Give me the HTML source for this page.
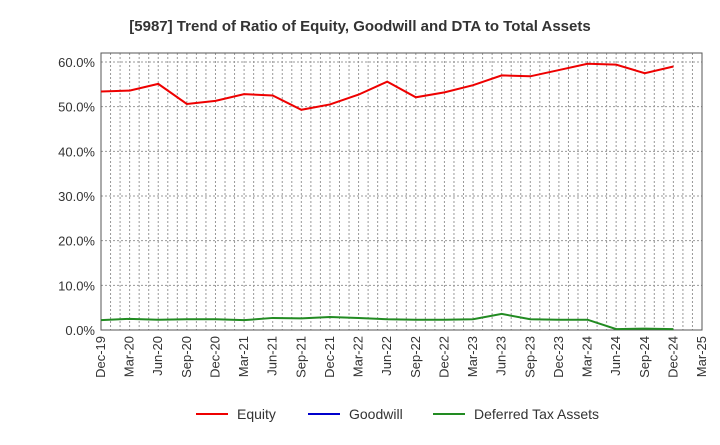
<!DOCTYPE html>
<html><head><meta charset="utf-8"><style>
body{margin:0;background:#fff;font-family:"Liberation Sans",sans-serif;}
</style></head><body>
<svg id="chart" width="720" height="440" xmlns="http://www.w3.org/2000/svg">
<text x="360" y="31" text-anchor="middle" font-size="15" font-weight="bold" fill="#333">[5987]  Trend of Ratio of Equity, Goodwill and DTA to Total Assets</text>
<g id="grid"></g><g id="axes"></g><g id="series"></g>
<g font-size="14" fill="#333">
<line x1="196" y1="414" x2="228" y2="414" stroke="#e00" stroke-width="2"/><text x="237" y="419">Equity</text>
<line x1="308" y1="414" x2="340" y2="414" stroke="#00c" stroke-width="2"/><text x="349" y="419">Goodwill</text>
<line x1="433" y1="414" x2="465" y2="414" stroke="#228b22" stroke-width="2"/><text x="474" y="419">Deferred Tax Assets</text>
</g>
</svg>
<script>
const categories=["Dec-19","Mar-20","Jun-20","Sep-20","Dec-20","Mar-21","Jun-21","Sep-21","Dec-21","Mar-22","Jun-22","Sep-22","Dec-22","Mar-23","Jun-23","Sep-23","Dec-23","Mar-24","Jun-24","Sep-24","Dec-24","Mar-25"];
const equity=[53.4,53.6,55.1,50.6,51.3,52.8,52.5,49.3,50.5,52.7,55.6,52.1,53.2,54.8,57.0,56.8,58.2,59.6,59.4,57.5,59.0];
const goodwill=[null,null,null,null,null,null,null,null,null,null,null,null,null,null,null,null,null,null,null,null,null];
const dta=[2.2,2.5,2.3,2.4,2.4,2.2,2.7,2.6,2.9,2.7,2.4,2.3,2.3,2.4,3.6,2.4,2.3,2.3,0.2,0.3,0.2];
const yTicks=[0,10,20,30,40,50,60];
const NS="http://www.w3.org/2000/svg";
const L=101,R=702,T=53,B=330;
const x=i=>L+i*(R-L)/(categories.length-1);
const y=v=>B-v*(B-62)/60;
function mk(tag,attrs,parent){const e=document.createElementNS(NS,tag);for(const k in attrs)e.setAttribute(k,attrs[k]);parent.appendChild(e);return e;}
const grid=document.getElementById('grid'),axes=document.getElementById('axes'),ser=document.getElementById('series');
for(let m=1;m<(categories.length-1)*3;m++){const xx=L+m*(R-L)/((categories.length-1)*3);
 const g=mk('line',{x1:xx,x2:xx,y1:T,y2:B,stroke:'#999','stroke-dasharray':'2,2','stroke-width':1},grid);
 
 }
yTicks.forEach(t=>{const yy=y(t);
 const g=mk('line',{x1:L,x2:R,y1:yy,y2:yy,stroke:'#999','stroke-dasharray':'2,2'},grid);
 
 
 const tx=mk('text',{x:L-6,y:yy+5,'text-anchor':'end','font-size':13,fill:'#333'},axes);tx.textContent=t.toFixed(1)+'%';
 
 });
const fr=mk('rect',{x:L,y:T,width:R-L,height:B-T,fill:'none',stroke:'#555'},axes);


categories.forEach((c,i)=>{const xx=x(i);
 const tx=mk('text',{transform:`translate(${xx+4},${B+6}) rotate(-90)`,'text-anchor':'end','font-size':13,fill:'#333'},axes);tx.textContent=c;
 
 });
function line(data,color,name){const pts=data.map((v,i)=>v==null?null:x(i)+','+y(v)).filter(p=>p!==null);
 if(pts.length<2)return;
 const p=mk('polyline',{points:pts.join(' '),fill:'none',stroke:color,'stroke-width':2},ser);
 
 }
line(goodwill,'#00c','goodwill-line');
line(dta,'#228b22','dta-line');
line(equity,'#e00','equity-line');
</script>
</body></html>
